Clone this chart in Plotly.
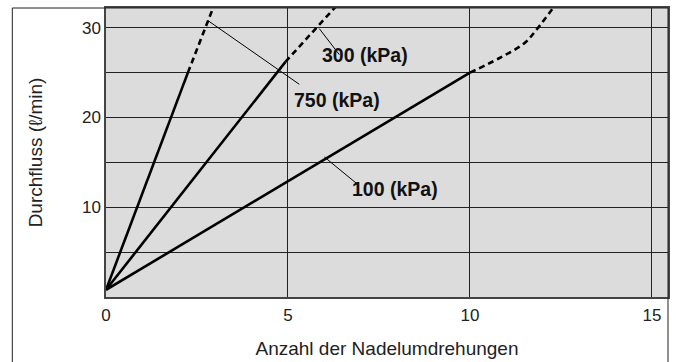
import plotly.graph_objects as go

# Flow characteristics: needle turns vs. flow rate per supply pressure
turns_750_solid = [0, 2.25]
flow_750_solid = [0.8, 25.0]
turns_750_dash = [2.25, 2.95]
flow_750_dash = [25.0, 32.3]

turns_300_solid = [0, 4.93]
flow_300_solid = [0.8, 26.2]
turns_300_dash = [4.93, 6.3]
flow_300_dash = [26.2, 32.3]

turns_100_solid = [0, 10.0]
flow_100_solid = [0.8, 25.0]
turns_100_dash = [10.0, 10.8, 11.5, 11.85, 12.3]
flow_100_dash = [25.0, 26.6, 28.3, 29.9, 32.3]

x_tickvals = [0, 5, 10, 15]
x_ticktext = ["0", "5", "10", "15"]
y_tickvals = [5, 10, 15, 20, 25, 30]
y_ticktext = ["", "10", "", "20", "", "30"]

FONT = "Liberation Sans, Arial, Helvetica, sans-serif"

fig = go.Figure()

solid = dict(color="black", width=2.6)
dashed = dict(color="black", width=2.6, dash="6px,4px")
dashed_curve = dict(color="black", width=2.6, dash="6px,4px", shape="spline")

for xs, ys, ln in [
    (turns_750_solid, flow_750_solid, solid),
    (turns_750_dash, flow_750_dash, dashed),
    (turns_300_solid, flow_300_solid, solid),
    (turns_300_dash, flow_300_dash, dashed),
    (turns_100_solid, flow_100_solid, solid),
    (turns_100_dash, flow_100_dash, dashed_curve),
]:
    fig.add_trace(go.Scatter(x=xs, y=ys, mode="lines", line=ln,
                             hoverinfo="skip", showlegend=False))

# Leader lines from curve labels
leaders = [
    ([5.86, 6.41], [29.9, 27.0]),
    ([2.80, 5.31], [30.8, 23.7]),
    ([6.0, 6.9], [15.6, 12.6]),
]
for xs, ys in leaders:
    fig.add_trace(go.Scatter(x=xs, y=ys, mode="lines",
                             line=dict(color="black", width=1),
                             hoverinfo="skip", showlegend=False))

label_font = dict(family=FONT, size=19.5, color="#111")
fig.add_annotation(x=7.12, y=27.0, text="<b>300 (kPa)</b>", showarrow=False,
                   font=label_font, xanchor="center", yanchor="middle")
fig.add_annotation(x=6.35, y=21.9, text="<b>750 (kPa)</b>", showarrow=False,
                   font=label_font, xanchor="center", yanchor="middle")
fig.add_annotation(x=7.95, y=12.0, text="<b>100 (kPa)</b>", showarrow=False,
                   font=label_font, xanchor="center", yanchor="middle")

# Outer frame around the figure
fig.add_shape(type="rect", xref="paper", yref="paper",
              x0=-0.1667, x1=1.0, y0=-0.3, y1=1.0,
              line=dict(color="#222", width=1), fillcolor="rgba(0,0,0,0)",
              layer="above")

fig.update_layout(
    width=676, height=362,
    margin=dict(l=106, r=6, t=8, b=62),
    paper_bgcolor="white",
    plot_bgcolor="#dcdcdc",
    font=dict(family=FONT, size=17, color="#222"),
    xaxis=dict(
        range=[0, 15.44], tickvals=x_tickvals, ticktext=x_ticktext,
        showgrid=True, gridcolor="#222", gridwidth=1,
        showline=True, linecolor="#444", linewidth=1.5, mirror=True,
        zeroline=False, ticks="", ticklen=0, ticklabelstandoff=2,
        tickfont=dict(family=FONT, size=17, color="#222"),
        title=dict(text="Anzahl der Nadelumdrehungen", standoff=18,
                   font=dict(family=FONT, size=19, color="#222")),
    ),
    yaxis=dict(
        range=[0, 32.2], tickvals=y_tickvals, ticktext=y_ticktext,
        showgrid=True, gridcolor="#222", gridwidth=1,
        showline=True, linecolor="#444", linewidth=1.5, mirror=True,
        zeroline=False, ticks="", ticklen=0,
        tickfont=dict(family=FONT, size=17, color="#222"),
        title=dict(text="Durchfluss (ℓ/min)", standoff=34,
                   font=dict(family=FONT, size=19, color="#222")),
    ),
)

fig.write_html("out.html")
